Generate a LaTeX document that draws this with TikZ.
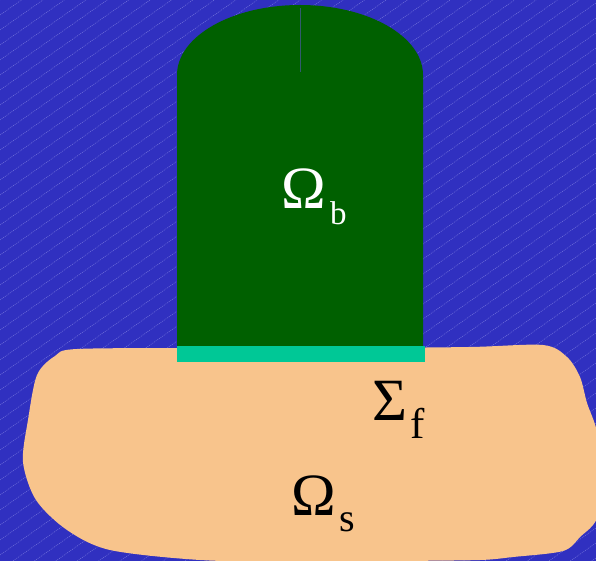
\documentclass[tikz,border=0pt]{standalone}
\usepackage{fontspec}
\setmainfont{Liberation Serif}
\definecolor{bgblue}{RGB}{48,48,192}
\definecolor{hatch}{RGB}{115,115,220}
\definecolor{bodygreen}{RGB}{0,96,0}
\definecolor{stripteal}{RGB}{0,200,150}
\definecolor{soil}{RGB}{248,196,140}
\definecolor{seam}{RGB}{50,90,110}
\tikzset{
  hatchline/.style={hatch, line width=0.5pt, dash pattern=on 1pt off 1pt},
  biglabel/.style={anchor=base west, inner sep=0pt, outer sep=0pt},
}
\begin{document}
\begin{tikzpicture}[x=1pt,y=-1pt]
\useasboundingbox (0,0) rectangle (596,561);
% background
\fill[bgblue] (0,0) rectangle (596,561);
\begin{scope}
\clip (0,0) rectangle (596,561);
\foreach \c in {0,15,...,1000} {
  \draw[hatchline] (0,\c) -- (596,\c-417);
}
\end{scope}
% soil blob
\fill[soil] plot[smooth cycle, tension=0.5] coordinates {
  (77,349) (200,348) (350,348) (470,347) (543,345) (567,357) (580,377)
  (587,403) (597,432) (600,475) (597,518) (580,537) (563,551) (513,557)
  (480,560) (400,561) (300,562) (200,560) (110,550) (67,530) (36,500)
  (23,462) (28,420) (37,375) (55,356)};
% body
\fill[bodygreen] (177,75) -- (177,348) -- (423,348) -- (423,75)
  arc[start angle=0, end angle=-180, x radius=123, y radius=70] -- cycle;
\draw[seam, line width=0.7pt] (300,8) -- (300,72);
% interface strip
\fill[stripteal] (177,346) rectangle (425,362);
% labels
\node[biglabel, text=white, font=\fontsize{60}{60}\selectfont] (ob) at (281,209) {Ω};
\node[biglabel, text=white, font=\fontsize{33}{33}\selectfont] (obs) at (330,225) {b};
\node[biglabel, text=black, font=\fontsize{60}{60}\selectfont] (sf) at (372,420) {Σ};
\node[biglabel, text=black, font=\fontsize{43}{43}\selectfont] (sfs) at (410,438) {f};
\node[biglabel, text=black, font=\fontsize{60}{60}\selectfont] (os) at (291,515) {Ω};
\node[biglabel, text=black, font=\fontsize{40}{40}\selectfont] (oss) at (339,531) {s};
\end{tikzpicture}
\end{document}
